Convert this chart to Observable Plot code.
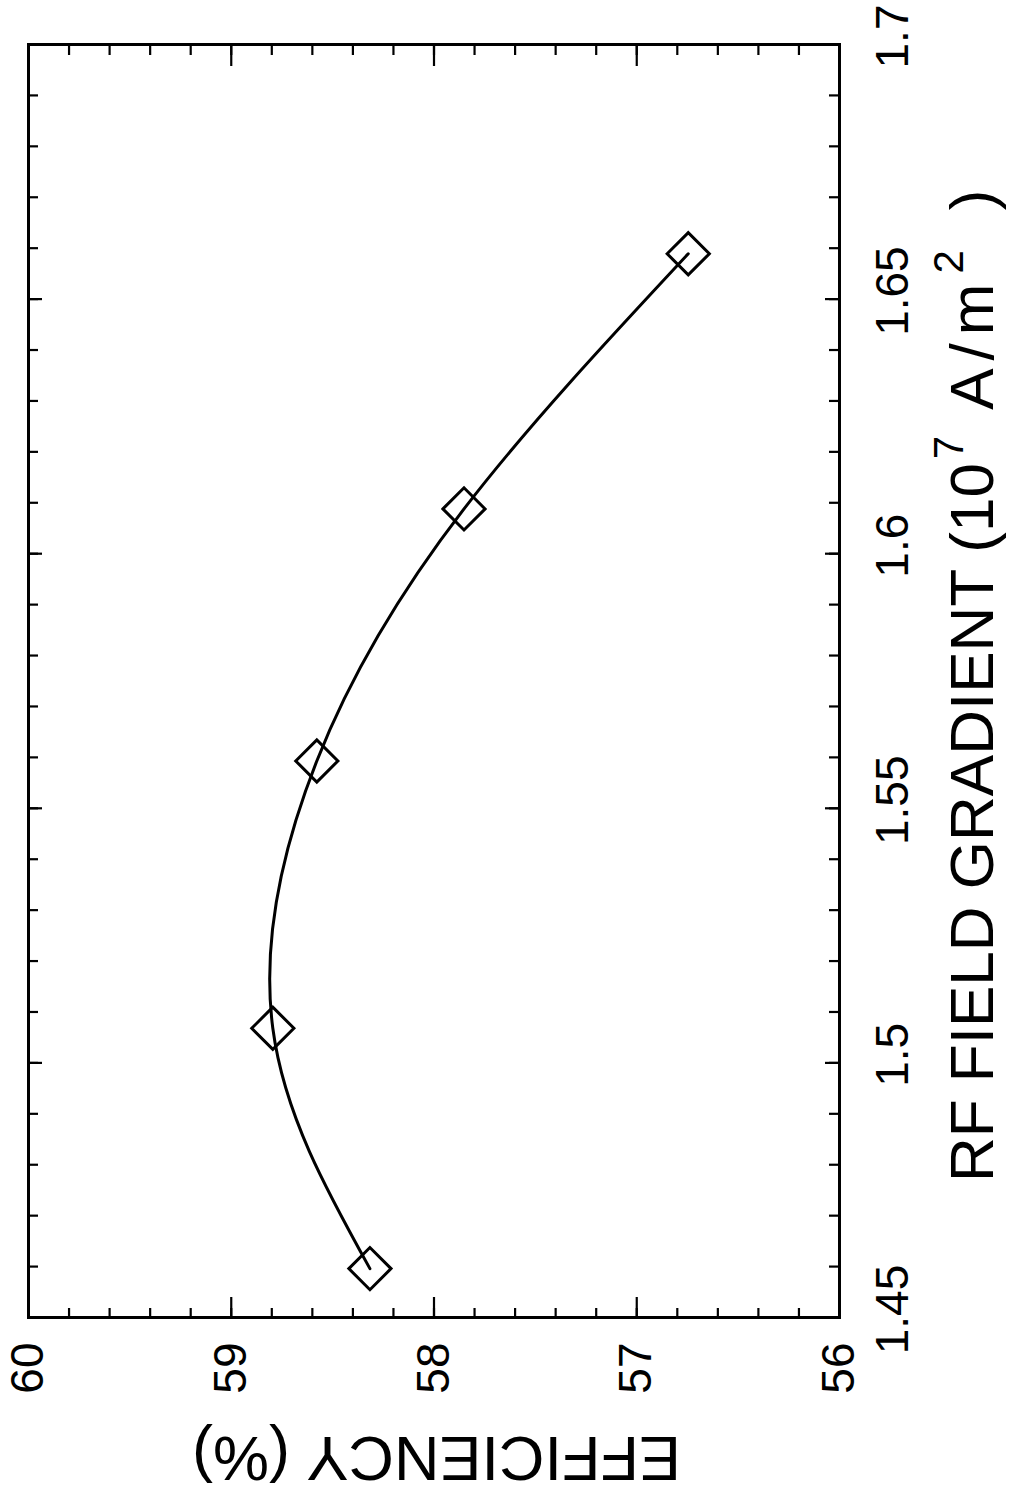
<!DOCTYPE html>
<html><head><meta charset="utf-8">
<script src="https://cdn.jsdelivr.net/npm/d3@7"></script>
<script src="https://cdn.jsdelivr.net/npm/@observablehq/plot@0.6"></script>
<style>
body{margin:0;background:#fff;}
#wrap{position:relative;width:1012px;height:1493px;overflow:hidden;background:#fff;}
#wrap svg{position:absolute;left:0;top:0;max-width:none !important;width:1493px !important;height:1012px !important;transform-origin:0 0;transform:translate(0px,1493px) rotate(-90deg);}
</style></head><body><div id="wrap"></div>
<script>
// Data (x: RF field gradient, y: efficiency)
const gradient = [1.4596, 1.5068, 1.5593, 1.6088, 1.6589];
const efficiency = [58.316, 58.795, 58.578, 57.852, 56.746];
const gradientTicks = [1.45, 1.5, 1.55, 1.6, 1.65, 1.7];
const gradientTickLabels = ["1.45", "1.5", "1.55", "1.6", "1.65", "1.7"];
const efficiencyTicks = [56, 57, 58, 59, 60];
const efficiencyTickLabels = ["56", "57", "58", "59", "60"];
const gradientMinor = d3.range(0, 26).map(i => +(1.45 + i * 0.01).toFixed(2));
const efficiencyMinor = d3.range(0, 21).map(i => +(56 + i * 0.2).toFixed(1));
const xTitle = ["RF FIELD GRADIENT (10", "7", "A/m", "2", ")"];
const yTitle = "EFFICIENCY (%)";

const data = gradient.map((g, i) => ({g, e: efficiency[i]}));

const W = 1493, H = 1012, ml = 175, mr = 45, mt = 28, mb = 173;
const pw = W - ml - mr, ph = H - mt - mb;
const font = "'Liberation Sans', Arial, Helvetica, sans-serif";

const tickStyle = {stroke: "black", strokeWidth: 2.2};
const chart = Plot.plot({
  width: W, height: H,
  marginLeft: ml, marginRight: mr, marginTop: mt, marginBottom: mb,
  style: {fontFamily: font, fontSize: "46px", color: "black", background: "white"},
  x: {domain: [1.45, 1.7], label: null},
  y: {domain: [56, 60], label: null},
  marks: [
    // minor ticks
    Plot.ruleX(gradientMinor, {x: d => d, insetTop: ph - 10, ...tickStyle}),
    Plot.ruleX(gradientMinor, {x: d => d, insetBottom: ph - 10, ...tickStyle}),
    Plot.ruleY(efficiencyMinor, {y: d => d, insetRight: pw - 10, ...tickStyle}),
    Plot.ruleY(efficiencyMinor, {y: d => d, insetLeft: pw - 10, ...tickStyle}),
    // major ticks
    Plot.ruleX(gradientTicks, {x: d => d, insetTop: ph - 14, ...tickStyle}),
    Plot.ruleX(gradientTicks, {x: d => d, insetBottom: ph - 14, ...tickStyle}),
    Plot.ruleY(efficiencyTicks, {y: d => d, insetRight: pw - 21, ...tickStyle}),
    Plot.ruleY(efficiencyTicks, {y: d => d, insetLeft: pw - 21, ...tickStyle}),
    Plot.frame({stroke: "black", strokeWidth: 3}),
    Plot.axisX({ticks: gradientTicks, tickSize: 0, tickPadding: 36, dx: 8, fontSize: 46,
      tickFormat: d => gradientTickLabels[gradientTicks.indexOf(d)] ?? d, label: null}),
    Plot.axisY({ticks: efficiencyTicks, tickSize: 0, tickPadding: 25, fontSize: 46,
      tickFormat: d => efficiencyTickLabels[efficiencyTicks.indexOf(d)] ?? d, label: null}),
    Plot.line(data, {x: "g", y: "e", curve: "natural", stroke: "black", strokeWidth: 3}),
    Plot.dot(data, {x: "g", y: "e", symbol: "diamond2", r: 19, stroke: "black", strokeWidth: 3, fill: "none"})
  ]
});

const svg = d3.select(chart);
// x axis title with superscripts
const xt = svg.append("text")
  .attr("x", 311).attr("y", 993)
  .attr("text-anchor", "start")
  .attr("font-family", font).attr("font-size", 62).attr("fill", "black");
xt.append("tspan").text(xTitle[0]);
xt.append("tspan").attr("font-size", 42).attr("dy", -30).attr("dx", 4).text(xTitle[1]);
xt.append("tspan").attr("dy", 30).attr("dx", 26).attr("letter-spacing", 8).text(xTitle[2]);
xt.append("tspan").attr("font-size", 42).attr("dy", -30).attr("dx", 2).attr("letter-spacing", 0).text(xTitle[3]);
xt.append("tspan").attr("dy", 30).attr("dx", 40).text(xTitle[4]);
// y axis title
svg.append("text")
  .attr("transform", `translate(56,${mt + ph / 2 + 3}) rotate(-90)`)
  .attr("text-anchor", "middle")
  .attr("font-family", font).attr("font-size", 63).attr("fill", "black")
  .text(yTitle);

document.getElementById("wrap").appendChild(chart);
</script></body></html>
